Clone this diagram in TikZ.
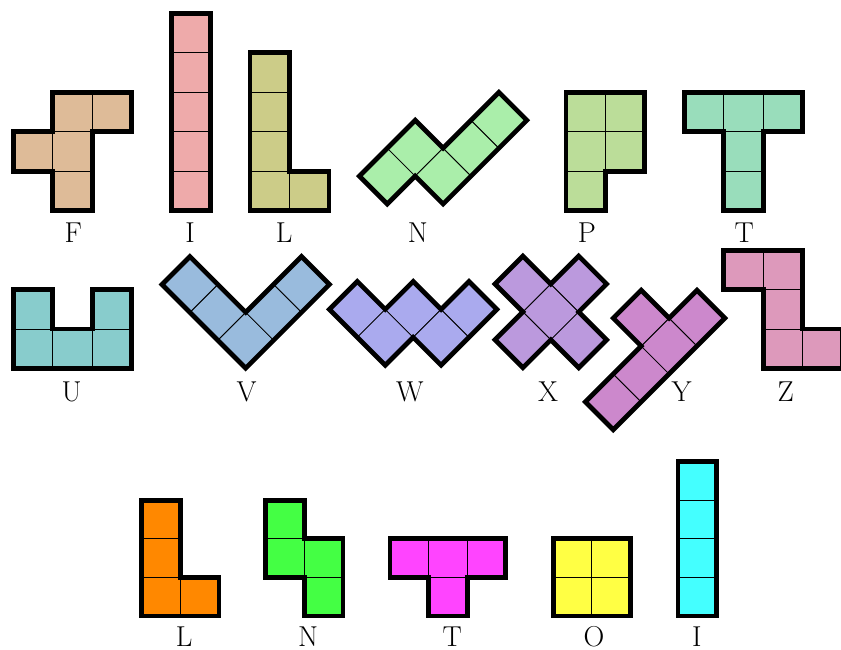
\documentclass[tikz,border=0pt]{standalone}
\usepackage{tikz}
\definecolor{pentF}{RGB}{222,187,152}
\definecolor{pentI}{RGB}{238,170,170}
\definecolor{pentL}{RGB}{204,204,136}
\definecolor{pentN}{RGB}{170,238,170}
\definecolor{pentP}{RGB}{187,221,153}
\definecolor{pentT}{RGB}{153,221,187}
\definecolor{pentU}{RGB}{136,204,204}
\definecolor{pentV}{RGB}{153,187,221}
\definecolor{pentW}{RGB}{170,170,238}
\definecolor{pentX}{RGB}{187,153,221}
\definecolor{pentY}{RGB}{204,136,204}
\definecolor{pentZ}{RGB}{221,153,187}
\definecolor{tetL}{RGB}{255,136,0}
\definecolor{tetN}{RGB}{68,255,68}
\definecolor{tetT}{RGB}{255,68,255}
\definecolor{tetO}{RGB}{255,255,68}
\definecolor{tetI}{RGB}{68,255,255}
\tikzset{
 cell/.style={
 draw=black,
 line width=0.6pt
 },
 rim/.style={
 draw=black,
 line width=3.4pt,
 line join=miter
 },
 tag/.style={
 font=\huge,
 anchor=base,
 inner sep=0pt
 }
}

\begin{document}
\begin{tikzpicture}
 \useasboundingbox (-0.337,-11.105) rectangle (20.970,5.338);
 % pentominoes, first row
 \foreach \c in {(1,0),(0,1),(1,1),(1,2),(2,2)} \draw[cell, fill=pentF] \c rectangle ++(1,1);
 \draw[rim] (1,0) -- (2,0) -- (2,2) -- (3,2) -- (3,3) -- (1,3) -- (1,2) -- (0,2) -- (0,1) -- (1,1) -- cycle;
 \node[tag] (tagF) at (1.52,-0.80) {F};

 \foreach \y in {0,...,4} \draw[cell, fill=pentI] (4,\y) rectangle ++(1,1);
 \draw[rim] (4,0) rectangle (5,5);
 \node[tag] (tagI) at (4.48,-0.80) {I};

 \foreach \c in {(6,0),(7,0),(6,1),(6,2),(6,3)} \draw[cell, fill=pentL] \c rectangle ++(1,1);
 \draw[rim] (6,0) -- (8,0) -- (8,1) -- (7,1) -- (7,4) -- (6,4) -- cycle;
 \node[tag] (tagL) at (6.86,-0.80) {L};

 \begin{scope}[shift={(9.475,0.17)}, rotate=45]
 \foreach \c in {(0,0),(1,0),(1,-1),(2,-1),(3,-1)} \draw[cell, fill=pentN] \c rectangle ++(1,1);
 \draw[rim] (0,0) -- (1,0) -- (1,-1) -- (4,-1) -- (4,0) -- (2,0) -- (2,1) -- (0,1) -- cycle;
 \end{scope}
 \node[tag] (tagN) at (10.25,-0.80) {N};

 \foreach \c in {(14,0),(14,1),(15,1),(14,2),(15,2)} \draw[cell, fill=pentP] \c rectangle ++(1,1);
 \draw[rim] (14,0) -- (15,0) -- (15,1) -- (16,1) -- (16,3) -- (14,3) -- cycle;
 \node[tag] (tagP) at (14.53,-0.80) {P};

 \foreach \c in {(17,2),(18,2),(19,2),(18,1),(18,0)} \draw[cell, fill=pentT] \c rectangle ++(1,1);
 \draw[rim] (18,0) -- (19,0) -- (19,2) -- (20,2) -- (20,3) -- (17,3) -- (17,2) -- (18,2) -- cycle;
 \node[tag] (tagT) at (18.52,-0.80) {T};

 % pentominoes, second row
 \foreach \c in {(0,-4),(1,-4),(2,-4),(0,-3),(2,-3)} \draw[cell, fill=pentU] \c rectangle ++(1,1);
 \draw[rim] (0,-4) -- (3,-4) -- (3,-2) -- (2,-2) -- (2,-3) -- (1,-3) -- (1,-2) -- (0,-2) -- cycle;
 \node[tag] (tagU) at (1.48,-4.84) {U};

 \begin{scope}[shift={(5.888,-3.99)}, rotate=45]
 \foreach \c in {(0,0),(1,0),(2,0),(0,1),(0,2)} \draw[cell, fill=pentV] \c rectangle ++(1,1);
 \draw[rim] (0,0) -- (3,0) -- (3,1) -- (1,1) -- (1,3) -- (0,3) -- cycle;
 \end{scope}
 \node[tag] (tagV) at (5.91,-4.84) {V};

 \begin{scope}[shift={(8.716,-3.207)}, rotate=45]
 \foreach \c in {(0,0),(0,-1),(1,-1),(1,-2),(2,-2)} \draw[cell, fill=pentW] \c rectangle ++(1,1);
 \draw[rim] (0,1) -- (0,-1) -- (1,-1) -- (1,-2) -- (3,-2) -- (3,-1) -- (2,-1) -- (2,0) -- (1,0) -- (1,1) -- cycle;
 \end{scope}
 \node[tag] (tagW) at (10.05,-4.84) {W};

 \begin{scope}[shift={(13.618,-2.564)}, rotate=45]
 \foreach \c in {(-0.5,-0.5),(0.5,-0.5),(-1.5,-0.5),(-0.5,0.5),(-0.5,-1.5)} \draw[cell, fill=pentX] \c rectangle ++(1,1);
 \draw[rim] (-0.5,-1.5) -- (0.5,-1.5) -- (0.5,-0.5) -- (1.5,-0.5) -- (1.5,0.5) -- (0.5,0.5) -- (0.5,1.5) -- (-0.5,1.5) -- (-0.5,0.5) -- (-1.5,0.5) -- (-1.5,-0.5) -- (-0.5,-0.5) -- cycle;
 \end{scope}
 \node[tag] (tagX) at (13.55,-4.84) {X};

 \begin{scope}[shift={(15.2,-5.55)}, rotate=45]
 \foreach \c in {(0,0),(1,0),(2,0),(3,0),(2,1)} \draw[cell, fill=pentY] \c rectangle ++(1,1);
 \draw[rim] (0,0) -- (4,0) -- (4,1) -- (3,1) -- (3,2) -- (2,2) -- (2,1) -- (0,1) -- cycle;
 \end{scope}
 \node[tag] (tagY) at (16.93,-4.84) {Y};

 \foreach \c in {(18,-2),(19,-2),(19,-3),(19,-4),(20,-4)} \draw[cell, fill=pentZ] \c rectangle ++(1,1);
 \draw[rim] (18,-1) -- (20,-1) -- (20,-3) -- (21,-3) -- (21,-4) -- (19,-4) -- (19,-2) -- (18,-2) -- cycle;
 \node[tag] (tagZ) at (19.57,-4.84) {Z};

 % tetrominoes
 \begin{scope}[shift={(3.253,-10.269)}, scale=0.978]
 \foreach \c in {(0,0),(1,0),(0,1),(0,2)} \draw[cell, fill=tetL] \c rectangle ++(1,1);
 \draw[rim] (0,0) -- (2,0) -- (2,1) -- (1,1) -- (1,3) -- (0,3) -- cycle;
 \end{scope}
 \node[tag] (tagTL) at (4.33,-11.04) {L};

 \begin{scope}[shift={(6.395,-10.269)}, scale=0.978]
 \foreach \c in {(0,1),(0,2),(1,0),(1,1)} \draw[cell, fill=tetN] \c rectangle ++(1,1);
 \draw[rim] (1,0) -- (2,0) -- (2,2) -- (1,2) -- (1,3) -- (0,3) -- (0,1) -- (1,1) -- cycle;
 \end{scope}
 \node[tag] (tagTN) at (7.47,-11.04) {N};

 \begin{scope}[shift={(9.544,-10.269)}, scale=0.978]
 \foreach \c in {(0,1),(1,1),(2,1),(1,0)} \draw[cell, fill=tetT] \c rectangle ++(1,1);
 \draw[rim] (1,0) -- (2,0) -- (2,1) -- (3,1) -- (3,2) -- (0,2) -- (0,1) -- (1,1) -- cycle;
 \end{scope}
 \node[tag] (tagTT) at (11.12,-11.04) {T};

 \begin{scope}[shift={(13.681,-10.269)}, scale=0.978]
 \foreach \c in {(0,0),(1,0),(0,1),(1,1)} \draw[cell, fill=tetO] \c rectangle ++(1,1);
 \draw[rim] (0,0) rectangle (2,2);
 \end{scope}
 \node[tag] (tagTO) at (14.71,-11.04) {O};

 \begin{scope}[shift={(16.841,-10.269)}, scale=0.978]
 \foreach \y in {0,...,3} \draw[cell, fill=tetI] (0,\y) rectangle ++(1,1);
 \draw[rim] (0,0) rectangle (1,4);
 \end{scope}
 \node[tag] (tagTI) at (17.32,-11.04) {I};
\end{tikzpicture}
\end{document}
